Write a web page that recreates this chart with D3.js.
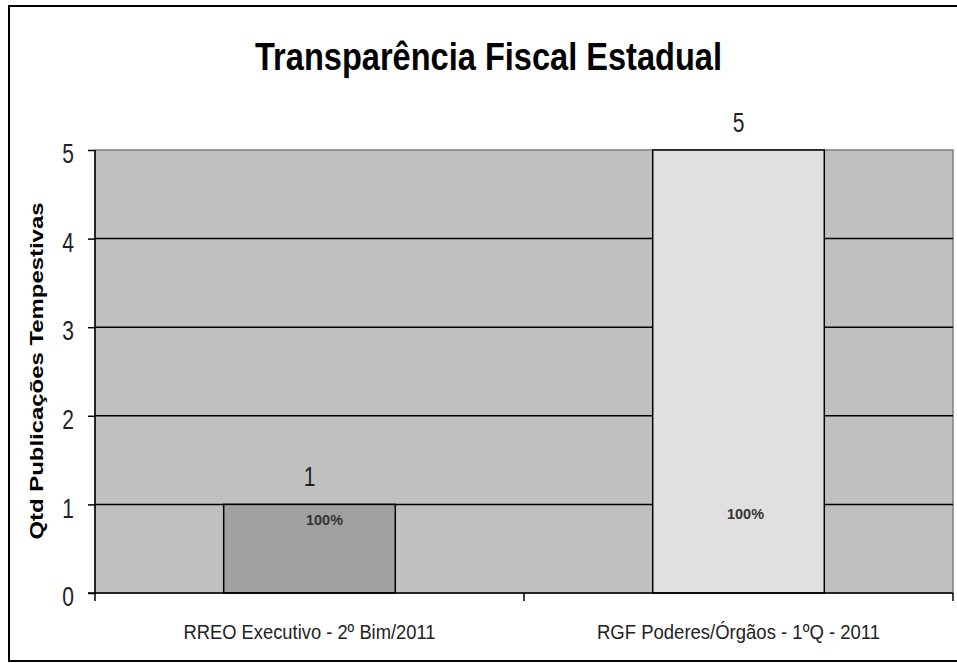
<!DOCTYPE html>
<html>
<head>
<meta charset="utf-8">
<script src="https://cdn.jsdelivr.net/npm/d3@7"></script>
<style>
  html, body { margin: 0; padding: 0; background: #fff; }
  svg { display: block; }
</style>
</head>
<body>
<svg id="chart" width="957" height="663"></svg>
<script>
const title = "Transparência Fiscal Estadual";
const yAxisTitle = "Qtd Publicações Tempestivas";
const categories = ["RREO Executivo - 2º Bim/2011", "RGF Poderes/Órgãos - 1ºQ - 2011"];
const values = [1, 5];
const percentLabels = ["100%", "100%"];
const yTicks = [0, 1, 2, 3, 4, 5];

(function () {
const barColors = ["#a0a0a0", "#e0e0e0"];
const narrow = "'Liberation Sans Narrow', 'Arial Narrow', 'Liberation Sans', Arial, sans-serif";
const wide = "'Liberation Sans', Arial, sans-serif";

const svg = d3.select("#chart");
const pLeft = 95, pRight = 953, pTop = 150, pBottom = 593;

const x = d3.scaleBand().domain(categories).range([pLeft, pRight]).paddingInner(0.6).paddingOuter(0.3);
const y = d3.scaleLinear().domain([0, 5]).range([pBottom, pTop]);
const step = x.step();

function condense(sel, f) {
  sel.each(function () {
    const w = this.getComputedTextLength();
    d3.select(this).attr("textLength", w * f).attr("lengthAdjust", "spacingAndGlyphs");
  });
}

// outer chart frame
svg.append("rect").attr("x", 9).attr("y", 6).attr("width", 960).attr("height", 655)
  .attr("fill", "#fff").attr("stroke", "#000").attr("stroke-width", 2);

// plot area
svg.append("rect").attr("x", pLeft).attr("y", pTop).attr("width", pRight - pLeft).attr("height", pBottom - pTop)
  .attr("fill", "#c0c0c0").attr("stroke", "#808080").attr("stroke-width", 1.5);

// gridlines
svg.append("g").selectAll("line").data(yTicks.filter(d => d > 0 && d < 5)).join("line")
  .attr("x1", pLeft).attr("x2", pRight).attr("y1", d => y(d)).attr("y2", d => y(d))
  .attr("stroke", "#000").attr("stroke-width", 1.5);

// bars
svg.append("g").selectAll("rect").data(values).join("rect")
  .attr("x", (d, i) => x(categories[i]))
  .attr("y", d => y(d))
  .attr("width", x.bandwidth())
  .attr("height", d => y(0) - y(d))
  .attr("fill", (d, i) => barColors[i])
  .attr("stroke", "#000").attr("stroke-width", 1.5);

// y axis
const yAxis = d3.axisLeft(y).tickValues(yTicks).tickSize(7).tickPadding(14).tickFormat(d3.format("d"));
const gy = svg.append("g").attr("transform", `translate(${pLeft},0)`).call(yAxis);
gy.select(".domain").attr("stroke", "#000").attr("stroke-width", 1.5).attr("d", `M0,${pTop}V${pBottom}`);
gy.selectAll(".tick line").attr("stroke", "#000").attr("stroke-width", 1.5);
gy.selectAll(".tick text").attr("font-family", narrow).attr("font-size", 28).attr("fill", "#222")
  .attr("dy", "0.45em").call(condense, 0.75);

// x axis line + ticks at band boundaries
svg.append("line").attr("x1", pLeft - 7).attr("x2", pRight).attr("y1", pBottom).attr("y2", pBottom)
  .attr("stroke", "#000").attr("stroke-width", 1.5);
const bounds = d3.range(categories.length + 1).map(i => pLeft + i * step);
svg.append("g").selectAll("line").data(bounds).join("line")
  .attr("x1", d => d).attr("x2", d => d).attr("y1", pBottom).attr("y2", pBottom + 8)
  .attr("stroke", "#000").attr("stroke-width", 1.5);

// category labels
const labelWidths = [252, 283];
svg.append("g").selectAll("text").data(categories).join("text")
  .attr("x", d => x(d) + x.bandwidth() / 2)
  .attr("y", 639)
  .attr("text-anchor", "middle")
  .attr("font-family", narrow).attr("font-size", 21).attr("fill", "#222")
  .attr("textLength", (d, i) => labelWidths[i]).attr("lengthAdjust", "spacingAndGlyphs")
  .text(d => d);

// value labels above bars
svg.append("g").selectAll("text").data(values).join("text")
  .attr("x", (d, i) => x(categories[i]) + x.bandwidth() / 2)
  .attr("y", d => y(d) - 18)
  .attr("text-anchor", "middle")
  .attr("font-family", narrow).attr("font-size", 28).attr("fill", "#222")
  .text(d => d)
  .call(condense, 0.75);

// percentage labels inside bars
const pctDx = [15, 7], pctDy = [21, 15];
svg.append("g").selectAll("text").data(percentLabels).join("text")
  .attr("x", (d, i) => x(categories[i]) + x.bandwidth() / 2 + pctDx[i])
  .attr("y", (d, i) => y(1) + pctDy[i])
  .attr("text-anchor", "middle")
  .attr("font-family", narrow).attr("font-size", 15).attr("font-weight", "bold").attr("fill", "#333")
  .attr("textLength", 37).attr("lengthAdjust", "spacingAndGlyphs")
  .text(d => d);

// y axis title
svg.append("text")
  .attr("transform", "translate(43,371) rotate(-90)")
  .attr("text-anchor", "middle")
  .attr("font-family", wide).attr("font-size", 19).attr("font-weight", "bold").attr("fill", "#000")
  .attr("textLength", 337).attr("lengthAdjust", "spacingAndGlyphs")
  .text(yAxisTitle);

// chart title
svg.append("text")
  .attr("x", 488.5).attr("y", 70)
  .attr("text-anchor", "middle")
  .attr("font-family", narrow).attr("font-size", 39).attr("font-weight", "bold").attr("fill", "#000")
  .attr("textLength", 467).attr("lengthAdjust", "spacingAndGlyphs")
  .text(title);
})();
</script>
</body>
</html>
